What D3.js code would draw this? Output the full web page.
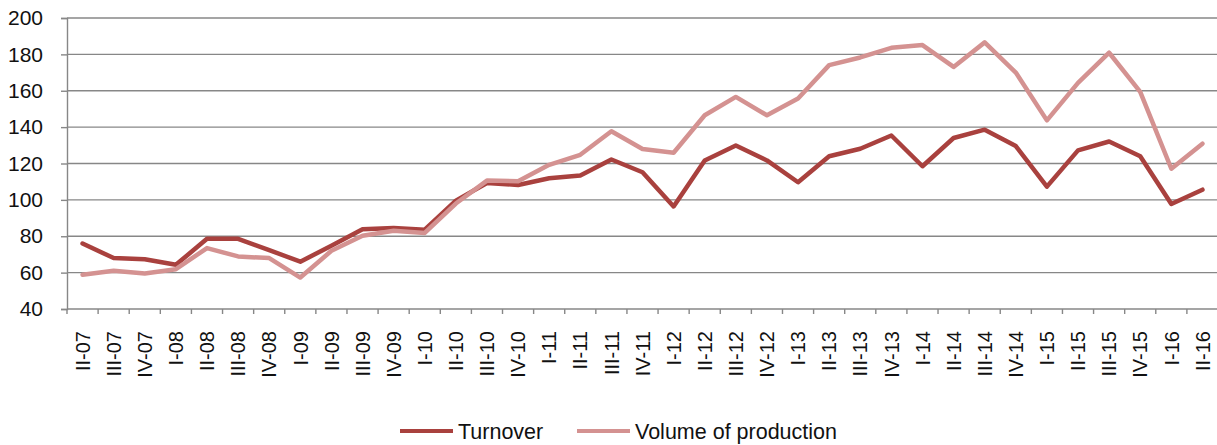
<!DOCTYPE html>
<html>
<head>
<meta charset="utf-8">
<script src="https://cdn.jsdelivr.net/npm/d3@7"></script>
<style>
  body { margin: 0; background: #fff; }
  svg { font-family: "Liberation Sans", Arial, sans-serif; }
</style>
</head>
<body>
<svg id="chart" width="1217" height="445"></svg>
<script>
// Data
const quarters = [
    'II-07', 'III-07', 'IV-07',
    'I-08', 'II-08', 'III-08', 'IV-08',
    'I-09', 'II-09', 'III-09', 'IV-09',
    'I-10', 'II-10', 'III-10', 'IV-10',
    'I-11', 'II-11', 'III-11', 'IV-11',
    'I-12', 'II-12', 'III-12', 'IV-12',
    'I-13', 'II-13', 'III-13', 'IV-13',
    'I-14', 'II-14', 'III-14', 'IV-14',
    'I-15', 'II-15', 'III-15', 'IV-15',
    'I-16', 'II-16'
];

const turnover = [
    76, 68, 67.4,
    64.3, 78.6, 78.6, 72.4,
    66, 74.8, 83.8, 84.5,
    83.6, 99.6, 109.3, 108.2,
    111.9, 113.4, 122.2, 115.2,
    96.4, 121.7, 129.9, 121.7,
    109.7, 124, 128.1, 135.4,
    118.5, 134, 138.6, 129.6,
    107.3, 127.2, 132.1, 124,
    97.7, 105.6
];

const production = [
    58.8, 61, 59.5,
    61.9, 73.5, 68.9, 68,
    57.3, 72, 80.3, 83,
    81.8, 98, 110.6, 110.3,
    119.3, 124.8, 137.7, 128,
    125.9, 146.5, 156.6, 146.5,
    155.7, 174.1, 178.3, 183.6,
    185.1, 173.1, 186.6, 170,
    143.7, 164.3, 180.9, 159.4,
    117.1, 130.9
];

const yTicks = [40, 60, 80, 100, 120, 140, 160, 180, 200];

const seriesNames = ['Turnover', 'Volume of production'];
const seriesColors = ['#a9413e', '#d49291'];

// Layout
const PLOT = { left: 67, right: 1218, top: 18, bottom: 309 };
const GRID_COLOR = '#878787';
const FONT_SIZE = 20;

const svg = d3.select('#chart');

const x = d3.scaleBand()
    .domain(quarters)
    .range([PLOT.left, PLOT.right])
    .padding(0);

const y = d3.scaleLinear()
    .domain([40, 200])
    .range([PLOT.bottom, PLOT.top]);

// Gridlines
svg.append('g')
    .selectAll('line')
    .data(yTicks.filter(t => t !== 40))
    .join('line')
    .attr('x1', PLOT.left)
    .attr('x2', PLOT.right)
    .attr('y1', d => y(d))
    .attr('y2', d => y(d))
    .attr('stroke', GRID_COLOR)
    .attr('stroke-width', 1.4);

// Y axis
const yAxis = svg.append('g')
    .attr('transform', `translate(${PLOT.left},0)`)
    .call(d3.axisLeft(y).tickValues(yTicks).tickSize(6).tickPadding(18));
yAxis.select('.domain').attr('stroke', GRID_COLOR).attr('stroke-width', 1.4);
yAxis.selectAll('.tick line').attr('stroke', GRID_COLOR).attr('stroke-width', 1.4);
yAxis.selectAll('.tick text')
    .attr('font-size', 21)
    .attr('font-family', '"Liberation Sans", Arial, sans-serif')
    .attr('fill', '#111');

// X axis: line, ticks at category boundaries, rotated labels
const xAxis = svg.append('g');
xAxis.append('line')
    .attr('x1', PLOT.left)
    .attr('x2', PLOT.right)
    .attr('y1', y(40))
    .attr('y2', y(40))
    .attr('stroke', GRID_COLOR)
    .attr('stroke-width', 1.4);

xAxis.selectAll('line.tick')
    .data(quarters)
    .join('line')
    .attr('class', 'tick')
    .attr('x1', d => x(d))
    .attr('x2', d => x(d))
    .attr('y1', y(40))
    .attr('y2', y(40) + 5)
    .attr('stroke', GRID_COLOR)
    .attr('stroke-width', 1.4);

xAxis.selectAll('text')
    .data(quarters)
    .join('text')
    .attr('transform', d => `translate(${x(d) + x.bandwidth() / 2},331) rotate(-90)`)
    .attr('dy', '0.36em')
    .attr('text-anchor', 'end')
    .attr('font-size', FONT_SIZE)
    .attr('fill', '#111')
    .text(d => d);

// Lines
const line = d3.line()
    .x((d, i) => x(quarters[i]) + x.bandwidth() / 2)
    .y(d => y(d));

[turnover, production].forEach((values, i) => {
    svg.append('path')
        .datum(values)
        .attr('fill', 'none')
        .attr('stroke', seriesColors[i])
        .attr('stroke-width', 4.5)
        .attr('stroke-linejoin', 'round')
        .attr('stroke-linecap', 'round')
        .attr('d', line);
});

// Legend
const legendItems = [
    { name: seriesNames[0], color: seriesColors[0], x: 400 },
    { name: seriesNames[1], color: seriesColors[1], x: 577 }
];

const legend = svg.append('g');
legendItems.forEach(item => {
    legend.append('line')
        .attr('x1', item.x)
        .attr('x2', item.x + 53)
        .attr('y1', 431)
        .attr('y2', 431)
        .attr('stroke', item.color)
        .attr('stroke-width', 4);
    legend.append('text')
        .attr('x', item.x + 58)
        .attr('y', 439)
        .attr('font-size', 21.5)
        .attr('fill', '#111')
        .text(item.name);
});
</script>
</body>
</html>
